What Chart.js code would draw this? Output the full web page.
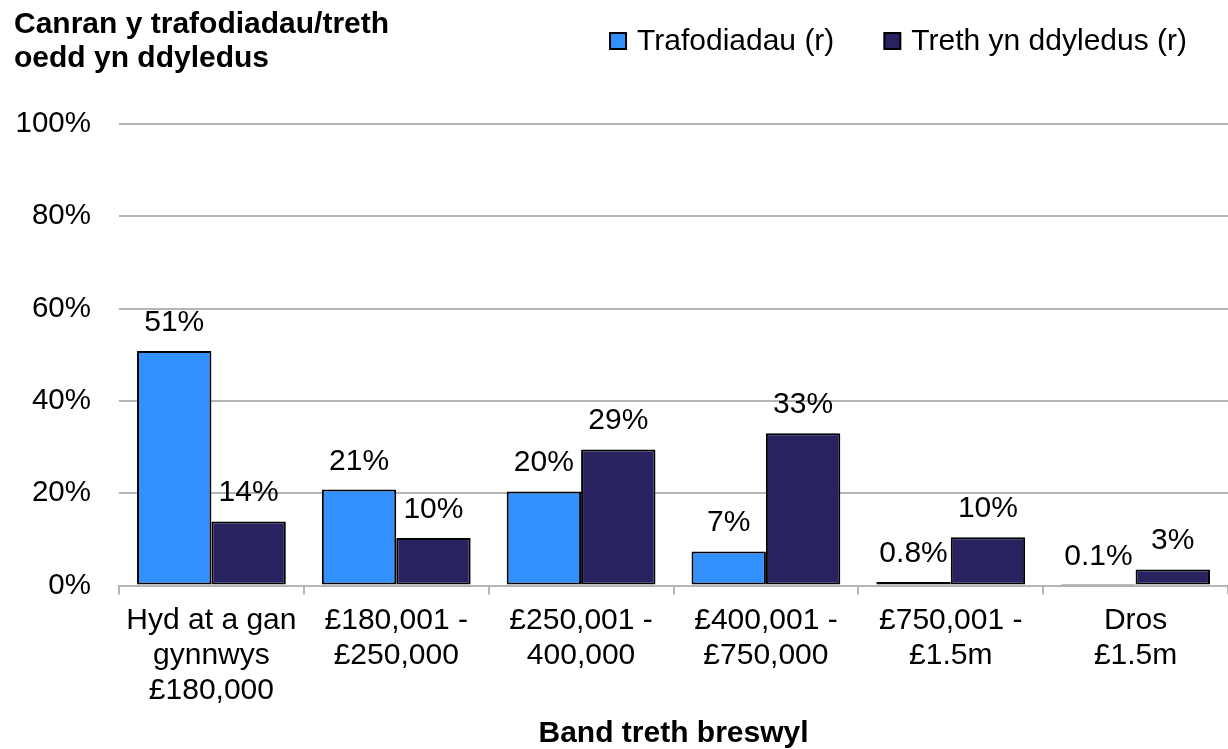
<!DOCTYPE html>
<html>
<head>
<meta charset="utf-8">
<script src="https://cdn.jsdelivr.net/npm/chart.js@4.4.1/dist/chart.umd.min.js"></script>
<style>
	html, body { margin: 0; padding: 0; background: #fff; }
	#wrap { width: 1228px; height: 749px; }
</style>
</head>
<body>
<div id="wrap"><canvas id="myChart" width="1228" height="749"></canvas></div>
<script>
var categories = [
	['Hyd at a gan', 'gynnwys', '£180,000'],
	['£180,001 -', '£250,000'],
	['£250,001 -', '400,000'],
	['£400,001 -', '£750,000'],
	['£750,001 -', '£1.5m'],
	['Dros', '£1.5m']
];
var trafodiadau = [50.8, 20.8, 20.4, 7.4, 0.8, 0.1];
var trethDdyledus = [13.9, 10.3, 29.5, 33.0, 10.5, 3.5];
var trafodiadauLabels = ['51%', '21%', '20%', '7%', '0.8%', '0.1%'];
var trethLabels = ['14%', '10%', '29%', '33%', '10%', '3%'];
var yTicks = [0, 20, 40, 60, 80, 100];
var seriesNames = ['Trafodiadau (r)', 'Treth yn ddyledus (r)'];
var titleLines = ['Canran y trafodiadau/treth', 'oedd yn ddyledus'];
var xTitle = 'Band treth breswyl';

var FONT = '"Liberation Sans", Arial, sans-serif';
Chart.defaults.font.family = FONT;
Chart.defaults.color = '#000';

var valueLabels = [trafodiadauLabels, trethLabels];

// labels over each bar
var barLabels = {
	id: 'barLabels',
	afterDatasetsDraw: function(chart) {
		var ctx = chart.ctx;
		ctx.save();
		ctx.font = '30px ' + FONT;
		ctx.fillStyle = '#000';
		ctx.textAlign = 'center';
		ctx.textBaseline = 'alphabetic';
		chart.data.datasets.forEach(function(ds, i) {
			chart.getDatasetMeta(i).data.forEach(function(bar, j) {
				ctx.fillText(valueLabels[i][j], bar.x, bar.y - 20);
			});
		});
		ctx.restore();
	}
};

// axis title top left + legend top right, on the same rows
var header = {
	id: 'header',
	afterDraw: function(chart) {
		var ctx = chart.ctx;
		ctx.save();
		ctx.fillStyle = '#000';
		ctx.textAlign = 'left';
		ctx.textBaseline = 'alphabetic';
		ctx.font = 'bold 30px ' + FONT;
		titleLines.forEach(function(line, i) {
			ctx.fillText(line, 14, 33 + i * 34);
		});

		ctx.font = '30px ' + FONT;
		var x = 1187;
		var sets = chart.data.datasets;
		for (var i = sets.length - 1; i >= 0; i--) {
			var w = ctx.measureText(sets[i].label).width;
			var textX = x - w;
			var boxX = textX - 11 - 16;
			ctx.fillStyle = sets[i].backgroundColor;
			ctx.fillRect(boxX, 33, 16, 16);
			ctx.strokeStyle = '#000';
			ctx.lineWidth = 2;
			ctx.strokeRect(boxX, 33, 16, 16);
			ctx.fillStyle = '#000';
			ctx.fillText(sets[i].label, textX, 50);
			x = boxX - 50;
		}
		ctx.restore();
	}
};

var ctx = document.getElementById('myChart').getContext('2d');
var myChart = new Chart(ctx, {
	type: 'bar',
	data: {
		labels: categories,
		datasets: [{
			label: seriesNames[0],
			data: trafodiadau,
			backgroundColor: '#3391ff',
			borderColor: '#000',
			borderWidth: 2,
			borderSkipped: false
		}, {
			label: seriesNames[1],
			data: trethDdyledus,
			backgroundColor: '#282260',
			borderColor: '#000',
			borderWidth: 2,
			borderSkipped: false
		}]
	},
	options: {
		responsive: false,
		animation: false,
		datasets: {
			bar: { barPercentage: 1.0, categoryPercentage: 0.805 }
		},
		layout: { padding: { top: 124, left: 16, right: 0, bottom: 0 } },
		plugins: {
			legend: { display: false },
			tooltip: { enabled: false }
		},
		scales: {
			x: {
				grid: { drawOnChartArea: false, drawTicks: true, tickLength: 9, color: '#b5b5b5', lineWidth: 2 },
				border: { color: '#b5b5b5', width: 2 },
				ticks: { font: { size: 30, lineHeight: 1.16 }, color: '#000', padding: 9, maxRotation: 0, autoSkip: false },
				title: {
					display: true,
					text: xTitle,
					color: '#000',
					font: { size: 30, weight: 'bold', lineHeight: 1.0 },
					padding: { top: 2, bottom: 0 }
				}
			},
			y: {
				min: 0,
				max: 100,
				afterBuildTicks: function(scale) {
					scale.ticks = yTicks.map(function(v) { return { value: v }; });
				},
				afterFit: function(scale) {
					scale.width = 103;
				},
				grid: { color: '#b5b5b5', lineWidth: 2, drawTicks: false },
				border: { display: false },
				ticks: {
					font: { size: 29.5 },
					color: '#000',
					padding: 28,
					callback: function(v) { return v + '%'; }
				}
			}
		}
	},
	plugins: [barLabels, header]
});
</script>
</body>
</html>
